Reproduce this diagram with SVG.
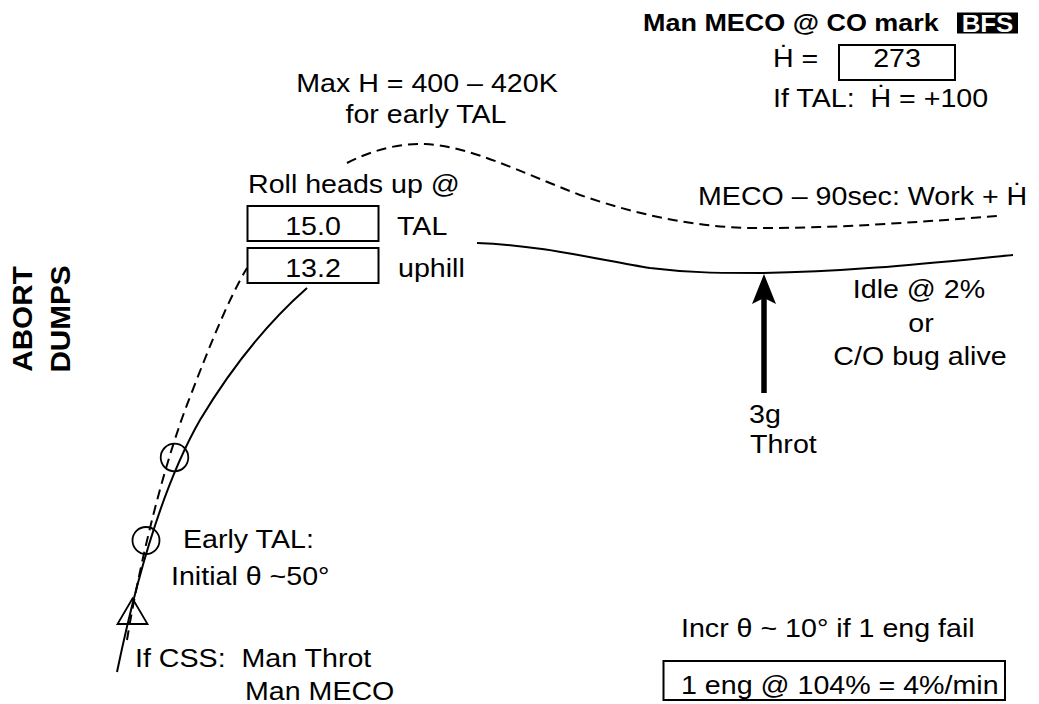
<svg xmlns="http://www.w3.org/2000/svg" width="1039" height="704" viewBox="0 0 1039 704">
<style>
.t{font-family:"Liberation Sans",Arial,sans-serif;font-size:26px;fill:#000;white-space:pre}
.b{font-weight:bold}
.m{text-anchor:middle}
.box{fill:#fff;stroke:#000;stroke-width:2}
.sol{fill:none;stroke:#000;stroke-width:2}
.dash{fill:none;stroke:#000;stroke-width:2;stroke-dasharray:10 6}
.mk{fill:none;stroke:#000;stroke-width:1.8}
</style>
<defs>
<marker id="ah" markerUnits="userSpaceOnUse" viewBox="0 0 30 30" markerWidth="30" markerHeight="30" refX="14" refY="12" orient="auto">
<path d="M0,0 L30,12 L0,24 L6,12 Z" fill="#000"/>
</marker>
</defs>
<rect width="1039" height="704" fill="#fff"/>

<g id="connectors">
<path class="dash" d="M347,163 C372,150 400,143 425,144 C470,146 520,172 580,195 C635,214 690,226 745,228 C830,229 920,222 997,216"/>
<path class="sol" d="M477,243 C540,245 600,260 650,268 C690,273 720,273 763,273 C850,272 940,262 1013,255"/>
<path class="sol" d="M117,672 C135,585 160,490 200,420 C230,370 265,325 307,288"/>
<path class="dash" d="M127,640 C140,560 165,460 190,397 C210,345 228,300 247,268"/>
<line x1="764" y1="393" x2="764" y2="290" stroke="#000" stroke-width="5.5" marker-end="url(#ah)"/>
</g>

<g id="markers">
<circle class="mk" cx="174.5" cy="457.5" r="13.8"/>
<circle class="mk" cx="146" cy="540.5" r="13.5"/>
<polygon class="mk" points="132.5,598.5 117.5,624 147.5,624"/>
</g>

<g id="title">
<text class="t b" style="font-size:24.5px" transform="translate(643,31) scale(1.1,1)">Man MECO @ CO mark</text>
<rect x="957" y="12.5" width="61" height="21" fill="#000"/>
<text class="t b m" style="font-size:23.5px;fill:#fff" transform="translate(987.5,31.5) scale(1.1,1)">BFS</text>
</g>

<g id="hdot">
<text class="t" transform="translate(773,67) scale(1.1,1)">Ḣ =</text>
<rect class="box" x="839" y="45" width="116" height="35"/>
<text class="t m" transform="translate(897,67) scale(1.1,1)">273</text>
<text class="t" transform="translate(773,107) scale(1.1,1)">If TAL:  Ḣ = +100</text>
</g>

<g id="maxh">
<text class="t m" transform="translate(427,92) scale(1.1,1)">Max H = 400 – 420K</text>
<text class="t m" transform="translate(426,123) scale(1.1,1)">for early TAL</text>
</g>

<g id="roll">
<text class="t" transform="translate(248,193) scale(1.1,1)">Roll heads up @</text>
<rect class="box" x="247.5" y="206" width="131" height="35"/>
<text class="t m" transform="translate(313,235) scale(1.1,1)">15.0</text>
<text class="t" transform="translate(397,235) scale(1.1,1)">TAL</text>
<rect class="box" x="247.5" y="248" width="131" height="35"/>
<text class="t m" transform="translate(313,277) scale(1.1,1)">13.2</text>
<text class="t" transform="translate(398,277) scale(1.1,1)">uphill</text>
</g>

<g id="meco90">
<text class="t" transform="translate(698,205) scale(1.1,1)">MECO – 90sec: Work + Ḣ</text>
</g>

<g id="idle">
<text class="t m" transform="translate(919,298) scale(1.1,1)">Idle @ 2%</text>
<text class="t m" transform="translate(921,332) scale(1.1,1)">or</text>
<text class="t m" transform="translate(920,365) scale(1.1,1)">C/O bug alive</text>
</g>

<g id="throt">
<text class="t" transform="translate(749,423) scale(1.1,1)">3g</text>
<text class="t" transform="translate(750,453) scale(1.1,1)">Throt</text>
</g>

<g id="abort">
<text class="t b m" style="font-size:27px" transform="translate(31.5,319) rotate(-90) scale(1.1,1)">ABORT</text>
<text class="t b m" style="font-size:27px" transform="translate(70,319) rotate(-90) scale(1.1,1)">DUMPS</text>
</g>

<g id="earlytal">
<text class="t" transform="translate(183,548) scale(1.1,1)">Early TAL:</text>
<text class="t" transform="translate(171,585) scale(1.1,1)">Initial θ ~50°</text>
</g>

<g id="css">
<text class="t" transform="translate(135,667) scale(1.1,1)">If CSS:  Man Throt</text>
<text class="t" transform="translate(245,700) scale(1.1,1)">Man MECO</text>
</g>

<g id="incr">
<text class="t" transform="translate(681,637) scale(1.1,1)">Incr θ ~ 10° if 1 eng fail</text>
</g>

<g id="eng">
<rect class="box" x="663.5" y="661" width="341.5" height="39"/>
<text class="t" transform="translate(681,694) scale(1.1,1)">1 eng @ 104% = 4%/min</text>
</g>
</svg>
